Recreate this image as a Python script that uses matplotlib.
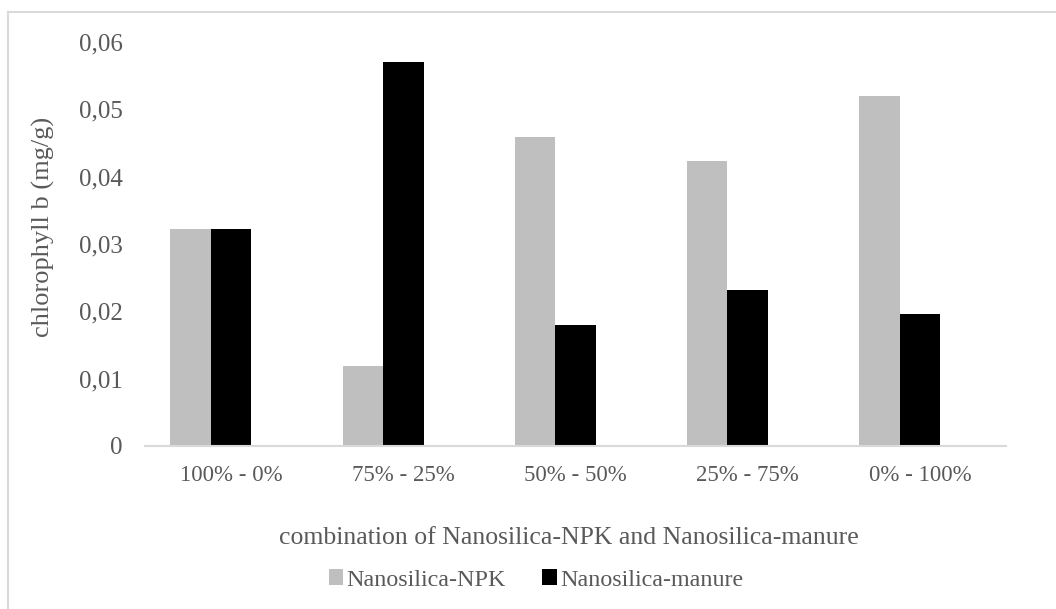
import matplotlib
matplotlib.use('Agg')
import matplotlib.pyplot as plt
from matplotlib.lines import Line2D
import numpy as np

categories = ['100% - 0%', '75% - 25%', '50% - 50%', '25% - 75%', '0% - 100%']
npk = [0.0322, 0.0119, 0.0459, 0.0423, 0.0520]
manure = [0.0322, 0.0571, 0.0180, 0.0232, 0.0196]
yticks = [0, 0.01, 0.02, 0.03, 0.04, 0.05, 0.06]
yticklabels = ['0', '0,01', '0,02', '0,03', '0,04', '0,05', '0,06']

plt.rcParams['font.family'] = ['Liberation Serif', 'DejaVu Serif']
text_color = '#595959'

fig = plt.figure(figsize=(10.56, 6.09), dpi=100)
ax = fig.add_axes([145/1056, 1-446/609, (1006-145)/1056, (446-42)/609])

x = np.arange(len(categories))
w = 0.235
# the original chart has an empty third series, so the pair sits left of centre
ax.bar(x - w, npk, width=w, color='#BFBFBF', label='Nanosilica-NPK')
ax.bar(x, manure, width=w, color='#000000', label='Nanosilica-manure')

ax.set_xlim(-0.5, len(categories) - 0.5)
ax.set_ylim(0, 0.06)
ax.set_yticks(yticks)
ax.set_yticklabels(yticklabels, fontsize=18, color=text_color)
ax.set_xticks(x)
ax.set_xticklabels(categories, fontsize=16.5, color=text_color)
ax.tick_params(axis='both', length=0)
ax.tick_params(axis='y', pad=16)
ax.tick_params(axis='x', pad=14)

for s in ['top', 'right', 'left']:
    ax.spines[s].set_visible(False)
ax.spines['bottom'].set_color('#D9D9D9')
ax.spines['bottom'].set_linewidth(1.5)

fig.text(43/1056, 1-227/609, 'chlorophyll b (mg/g)', fontsize=19, color=text_color,
         rotation=90, ha='center', va='center')
fig.text(569/1056, 1-538/609, 'combination of Nanosilica-NPK and Nanosilica-manure',
         fontsize=18.5, color=text_color, ha='center', va='center')

leg = fig.legend(loc='center', bbox_to_anchor=(536/1056, 1-580/609), ncol=2, frameon=False,
                 fontsize=17.3, labelcolor=text_color, handlelength=0.6, handleheight=0.6,
                 handletextpad=0.15, columnspacing=1.5)

# chart border (top and left only visible in the reference)
fig.add_artist(Line2D([7.5/1056, 1], [1-11.5/609, 1-11.5/609], color='#D9D9D9', lw=1.5))
fig.add_artist(Line2D([7.5/1056, 7.5/1056], [0, 1-11.5/609], color='#D9D9D9', lw=1.5))

fig.savefig('out.png', dpi=100)
